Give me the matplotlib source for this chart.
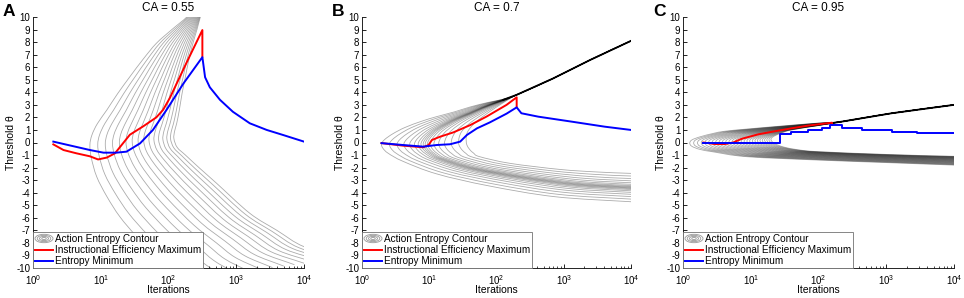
import numpy as np
import matplotlib
matplotlib.use('Agg')
import matplotlib.pyplot as plt
from matplotlib.lines import Line2D
from matplotlib.patches import Ellipse, Patch, PathPatch
from matplotlib.path import Path
from matplotlib.legend_handler import HandlerBase
from matplotlib.ticker import LogLocator, NullFormatter

plt.rcParams['font.family'] = ['Liberation Sans', 'DejaVu Sans']
plt.rcParams['axes.unicode_minus'] = False

# all x values are log10(iterations)
titles = ['CA = 0.55', 'CA = 0.7', 'CA = 0.95']
letters = ['A', 'B', 'C']

### panel A
a_red_lgn = [0.30, 0.45, 0.64, 0.84, 0.96, 1.09, 1.21, 1.43, 1.63, 1.82, 1.92, 2.02, 2.27, 2.50, 2.50]
a_red_th = [-0.15, -0.6, -0.86, -1.1, -1.35, -1.2, -0.86, 0.62, 1.3, 2.0, 2.6, 3.55, 6.4, 8.96, 6.84]
a_blue_lgn = [0.30, 0.84, 1.04, 1.23, 1.38, 1.58, 1.77, 1.97, 2.22, 2.50, 2.54, 2.61, 2.76, 2.95, 3.20, 3.45, 3.69, 4.0]
a_blue_th = [0.07, -0.6, -0.81, -0.81, -0.73, -0.07, 1.0, 2.59, 4.7, 6.8, 5.2, 4.4, 3.4, 2.45, 1.53, 1.0, 0.6, 0.07]
# outermost and innermost action entropy contour
a_out_lgn = [2.32, 2.27, 2.05, 1.82, 1.62, 1.43, 1.25, 1.09, 0.95, 0.87, 0.84, 0.86, 0.94, 1.09, 1.28, 1.53, 1.80, 1.95, 2.10]
a_out_th = [10.5, 10, 9.0, 7.9, 6.6, 5.24, 3.9, 2.59, 1.5, 0.6, -0.2, -1.2, -2.72, -4.3, -5.9, -7.5, -9.0, -10, -11]
a_in_lgn = [2.50, 2.47, 2.42, 2.36, 2.30, 2.25, 2.20, 2.16, 2.12, 2.09, 2.08, 2.13, 2.25, 2.45, 2.71, 3.20, 3.60, 4.0, 4.6]
a_in_th = [10.5, 10, 9.0, 7.9, 6.6, 5.24, 3.9, 2.59, 1.5, 0.9, 0.3, -0.4, -1.0, -2.0, -3.25, -5.64, -7.0, -8.3, -9.2]

### panel B
b_red_lgn = [0.29, 0.61, 0.91, 0.99, 1.04, 1.16, 1.36, 1.61, 1.85, 2.15, 2.30, 2.30]
b_red_th = [-0.05, -0.25, -0.38, -0.2, 0.2, 0.46, 0.81, 1.39, 2.06, 3.0, 3.6, 2.85]
b_blue_lgn = [0.29, 0.61, 0.91, 1.11, 1.31, 1.46, 1.56, 1.71, 1.90, 2.15, 2.30, 2.37, 2.62, 3.12, 3.61, 4.0]
b_blue_th = [-0.05, -0.2, -0.33, -0.2, -0.14, 0.07, 0.6, 1.13, 1.6, 2.3, 2.8, 2.33, 2.06, 1.66, 1.26, 1.0]
b_black_lgn = [2.10, 2.30, 2.84, 3.39, 4.0]
b_black_th = [3.4, 3.8, 5.1, 6.57, 8.1]
b_out_lgn = [4.6, 4.0, 3.39, 2.84, 2.30, 2.10, 1.88, 1.62, 1.38, 1.11, 0.89, 0.64, 0.46, 0.34, 0.29, 0.31, 0.39, 0.61, 1.11, 1.88, 2.87, 4.0, 4.6]
b_out_th = [9.6, 8.1, 6.57, 5.1, 3.8, 3.45, 3.2, 2.85, 2.45, 2.06, 1.7, 1.2, 0.7, 0.25, -0.1, -0.45, -0.86, -1.5, -2.5, -3.45, -4.32, -4.72, -4.9]
b_in_lgn = [4.6, 4.0, 3.39, 2.84, 2.30, 2.20, 2.08, 1.95, 1.83, 1.72, 1.63, 1.57, 1.55, 1.55, 1.56, 1.60, 1.66, 1.75, 2.20, 2.95, 3.50, 4.0, 4.6]
b_in_th = [9.6, 8.1, 6.57, 5.1, 3.8, 3.5, 3.1, 2.65, 2.2, 1.75, 1.3, 0.85, 0.45, 0.1, -0.2, -0.55, -0.85, -1.13, -1.66, -2.15, -2.35, -2.46, -2.55]

### panel C
c_red_lgn = [0.30, 0.47, 0.62, 0.74, 0.87, 1.11, 1.36, 1.60, 1.85, 2.20, 2.20]
c_red_th = [0.0, -0.12, -0.12, 0.0, 0.3, 0.65, 0.9, 1.13, 1.35, 1.58, 1.4]
c_blue_lgn = [0.30, 1.43, 1.43, 1.60, 1.85, 2.05, 2.17, 2.34, 2.64, 3.08, 3.46, 3.67, 4.0]
c_blue_th = [0.0, 0.0, 0.7, 0.82, 0.96, 1.13, 1.4, 1.13, 1.0, 0.86, 0.78, 0.73, 0.73]
c_black_lgn = [2.20, 2.34, 3.08, 4.0]
c_black_th = [1.55, 1.66, 2.33, 3.0]
c_out_lgn = [4.6, 4.0, 3.08, 2.34, 2.0, 1.43, 0.94, 0.62, 0.45, 0.25, 0.13, 0.10, 0.13, 0.25, 0.45, 0.94, 2.0, 3.0, 4.0, 4.6]
c_out_th = [3.45, 3.0, 2.33, 1.66, 1.55, 1.3, 1.07, 0.9, 0.73, 0.45, 0.2, -0.05, -0.3, -0.55, -0.75, -1.13, -1.4, -1.6, -1.8, -1.9]
c_in_lgn = [4.6, 4.0, 3.08, 2.34, 2.0, 1.6, 1.45, 1.36, 1.32, 1.30, 1.30, 1.31, 1.34, 1.40, 1.50, 1.70, 2.0, 3.0, 4.0, 4.6]
c_in_th = [3.45, 3.0, 2.33, 1.66, 1.35, 1.0, 0.75, 0.55, 0.42, 0.3, 0.2, 0.1, -0.05, -0.2, -0.38, -0.58, -0.73, -0.95, -1.1, -1.15]

# number of contour levels drawn per panel and how they bunch up
n_levels = [16, 18, 28]
bunch_in = [0.43, 0.0, 0.3]
bunch_mid = [0.0, 0.6, 0.0]


class ContourHandler(HandlerBase):
    def create_artists(self, legend, orig_handle, xdescent, ydescent,
                       width, height, fontsize, trans):
        cx = width / 2 - xdescent
        cy = height / 2 - ydescent
        arts = []
        for f in [1.0, 0.75, 0.5, 0.25]:
            arts.append(Ellipse((cx, cy), width * f, height * 1.2 * f, fill=False,
                                ec='0.6', lw=0.6, transform=trans))
        return arts


def smooth_line(ax, u, th, **kw):
    # smooth bezier path through the points (in log10 x space)
    P = np.column_stack([u, th])
    Pe = np.vstack([2 * P[0] - P[1], P, 2 * P[-1] - P[-2]])
    verts = [P[0]]
    codes = [Path.MOVETO]
    for j in range(len(P) - 1):
        p0, p1, p2, p3 = Pe[j], Pe[j + 1], Pe[j + 2], Pe[j + 3]
        verts += [p1 + (p2 - p0) / 6, p2 - (p3 - p1) / 6, p2]
        codes += [Path.CURVE4] * 3
    verts = np.array(verts)
    verts[:, 0] = 10 ** verts[:, 0]
    ax.add_patch(PathPatch(Path(verts, codes), fill=False, **kw))


def draw_contours(ax, out_lgn, out_th, in_lgn, in_th, count, c1, c2):
    out_lgn = np.array(out_lgn); out_th = np.array(out_th)
    in_lgn = np.array(in_lgn); in_th = np.array(in_th)
    for k in range(count):
        s = k / (count - 1)
        w = s + c1 * s * (1 - s) + c2 * np.sin(2 * np.pi * s) / (2 * np.pi)
        smooth_line(ax, out_lgn + w * (in_lgn - out_lgn), out_th + w * (in_th - out_th),
                    edgecolor=(0, 0, 0, 0.33), lw=0.6, zorder=1)


fig = plt.figure(figsize=(9.64, 2.98), dpi=100)
lefts = [33 / 964, 362 / 964, 683 / 964]
widths = [271 / 964, 269 / 964, 271 / 964]

panels = [
    (a_red_lgn, a_red_th, a_blue_lgn, a_blue_th, None, None,
     a_out_lgn, a_out_th, a_in_lgn, a_in_th),
    (b_red_lgn, b_red_th, b_blue_lgn, b_blue_th, b_black_lgn, b_black_th,
     b_out_lgn, b_out_th, b_in_lgn, b_in_th),
    (c_red_lgn, c_red_th, c_blue_lgn, c_blue_th, c_black_lgn, c_black_th,
     c_out_lgn, c_out_th, c_in_lgn, c_in_th),
]

for i, p in enumerate(panels):
    red_x, red_y, blue_x, blue_y, blk_x, blk_y, o_x, o_y, i_x, i_y = p
    ax = fig.add_axes([lefts[i], 30 / 298, widths[i], 251 / 298])
    draw_contours(ax, o_x, o_y, i_x, i_y, n_levels[i], bunch_in[i], bunch_mid[i])
    if blk_x is not None:
        ax.plot(10 ** np.array(blk_x), blk_y, color='k', lw=1.3, zorder=2)
    ax.plot(10 ** np.array(red_x), red_y, color='red', lw=1.4, zorder=3)
    if i == 2:
        ax.plot(10 ** np.array(blue_x), blue_y, color='blue', lw=1.4, zorder=3,
                drawstyle='steps-post')
    else:
        ax.plot(10 ** np.array(blue_x), blue_y, color='blue', lw=1.4, zorder=3)

    ax.set_xscale('log')
    ax.set_xlim(1, 1e4)
    ax.set_ylim(-10, 10)
    ax.set_yticks(range(-10, 11))
    ax.xaxis.set_major_locator(LogLocator(base=10, numticks=10))
    ax.xaxis.set_minor_locator(LogLocator(base=10, subs=np.arange(2, 10), numticks=10))
    ax.xaxis.set_minor_formatter(NullFormatter())
    ax.tick_params(which='major', direction='in', length=3, width=0.6, labelsize=7, pad=2)
    ax.tick_params(axis='x', which='major', pad=3.5)
    ax.tick_params(which='minor', direction='in', length=1.6, width=0.5)
    ax.spines['top'].set_visible(False)
    ax.spines['right'].set_visible(False)
    for s in ['left', 'bottom']:
        ax.spines[s].set_linewidth(0.6)

    ax.set_title(titles[i], fontsize=8.5, pad=4)
    ax.set_xlabel('Iterations', fontsize=7.5, labelpad=-1)
    ax.set_ylabel('Threshold θ', fontsize=7.5, labelpad=0)

    proxy = Patch()
    handles = [proxy,
               Line2D([], [], color='red', lw=1.4),
               Line2D([], [], color='blue', lw=1.4)]
    leg = ax.legend(handles, ['Action Entropy Contour', 'Instructional Efficiency Maximum',
                              'Entropy Minimum'],
                    handler_map={proxy: ContourHandler()},
                    loc='lower left', borderaxespad=0, fontsize=7.2, fancybox=False,
                    framealpha=1, edgecolor='0.45', handlelength=1.8, handletextpad=0.2,
                    labelspacing=0.1, borderpad=0.2)
    leg.get_frame().set_linewidth(0.6)

    fig.text((lefts[i] * 964 - 30) / 964, 1 - 4 / 298, letters[i], fontsize=12.5,
             fontweight='bold', va='top', ha='left')

fig.savefig('out.png', dpi=100)
